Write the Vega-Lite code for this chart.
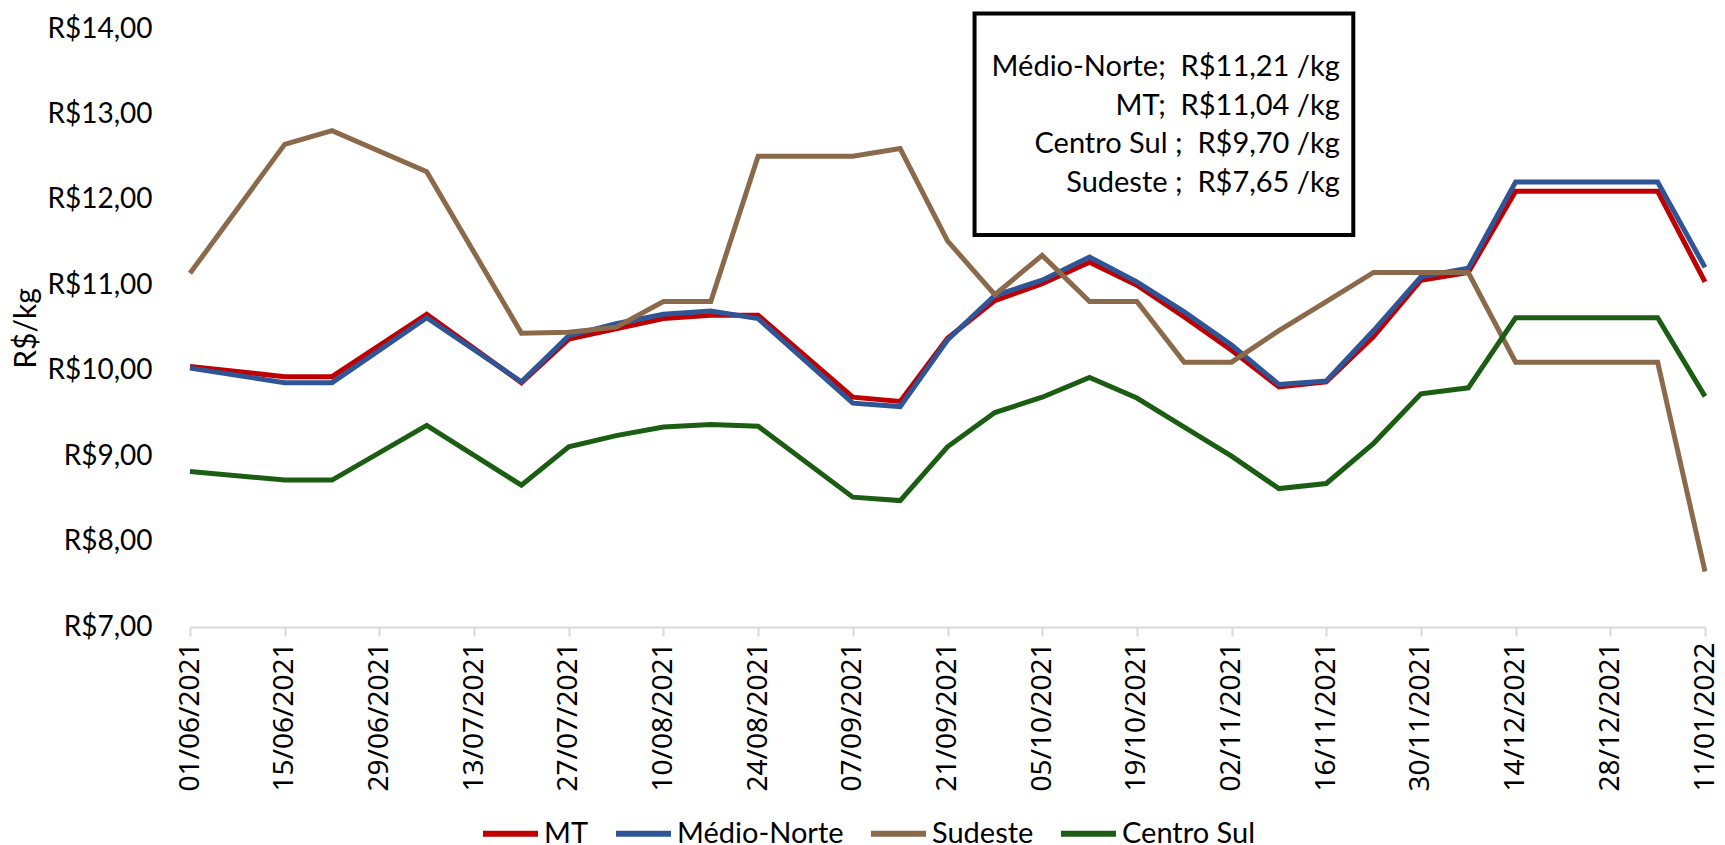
{
  "$schema": "https://vega.github.io/schema/vega-lite/v6.json",
  "autosize": {"type": "none"},
  "padding": {"left": 190, "top": 29, "right": 20, "bottom": 218},
  "width": 1515,
  "height": 598,
  "background": "white",
  "config": {
    "font": "Noto Sans",
    "view": {"stroke": null},
    "axis": {"labelFont": "Noto Sans", "labelFontSize": 28},
    "axisX": {
      "labelAngle": -90,
      "labelFont": "Noto Sans",
      "labelFontSize": 28,
      "labelColor": "#000000",
      "labelPadding": 6,
      "labelOverlap": false,
      "labelFlush": false,
      "labelLimit": 0,
      "domainColor": "#D9D9D9",
      "domainWidth": 2,
      "tickColor": "#D9D9D9",
      "tickWidth": 2,
      "tickSize": 9,
      "grid": false
    },
    "axisY": {
      "titleFont": "Lato",
      "titleFontSize": 30,
      "titleFontWeight": "normal",
      "titleColor": "#000000",
      "titlePadding": 5,
      "labelFont": "Lato",
      "labelFontSize": 28,
      "labelColor": "#000000",
      "labelPadding": 38,
      "domain": false,
      "ticks": false,
      "grid": false
    }
  },
  "datasets": {
    "prices": [
      {"date": "2021-06-01", "series": "MT", "price": 10.05},
      {"date": "2021-06-15", "series": "MT", "price": 9.93},
      {"date": "2021-06-22", "series": "MT", "price": 9.93},
      {"date": "2021-07-06", "series": "MT", "price": 10.66},
      {"date": "2021-07-20", "series": "MT", "price": 9.86},
      {"date": "2021-07-27", "series": "MT", "price": 10.37},
      {"date": "2021-08-03", "series": "MT", "price": 10.49},
      {"date": "2021-08-10", "series": "MT", "price": 10.61},
      {"date": "2021-08-17", "series": "MT", "price": 10.65},
      {"date": "2021-08-24", "series": "MT", "price": 10.65},
      {"date": "2021-09-07", "series": "MT", "price": 9.69},
      {"date": "2021-09-14", "series": "MT", "price": 9.64},
      {"date": "2021-09-21", "series": "MT", "price": 10.38},
      {"date": "2021-09-28", "series": "MT", "price": 10.82},
      {"date": "2021-10-05", "series": "MT", "price": 11.02},
      {"date": "2021-10-12", "series": "MT", "price": 11.27},
      {"date": "2021-10-19", "series": "MT", "price": 11.00},
      {"date": "2021-10-26", "series": "MT", "price": 10.63},
      {"date": "2021-11-02", "series": "MT", "price": 10.24},
      {"date": "2021-11-09", "series": "MT", "price": 9.81},
      {"date": "2021-11-16", "series": "MT", "price": 9.87},
      {"date": "2021-11-23", "series": "MT", "price": 10.40},
      {"date": "2021-11-30", "series": "MT", "price": 11.06},
      {"date": "2021-12-07", "series": "MT", "price": 11.15},
      {"date": "2021-12-14", "series": "MT", "price": 12.10},
      {"date": "2022-01-04", "series": "MT", "price": 12.10},
      {"date": "2022-01-11", "series": "MT", "price": 11.04},

      {"date": "2021-06-01", "series": "Médio-Norte", "price": 10.03},
      {"date": "2021-06-15", "series": "Médio-Norte", "price": 9.86},
      {"date": "2021-06-22", "series": "Médio-Norte", "price": 9.86},
      {"date": "2021-07-06", "series": "Médio-Norte", "price": 10.62},
      {"date": "2021-07-20", "series": "Médio-Norte", "price": 9.87},
      {"date": "2021-07-27", "series": "Médio-Norte", "price": 10.41},
      {"date": "2021-08-03", "series": "Médio-Norte", "price": 10.55},
      {"date": "2021-08-10", "series": "Médio-Norte", "price": 10.66},
      {"date": "2021-08-17", "series": "Médio-Norte", "price": 10.70},
      {"date": "2021-08-24", "series": "Médio-Norte", "price": 10.61},
      {"date": "2021-09-07", "series": "Médio-Norte", "price": 9.62},
      {"date": "2021-09-14", "series": "Médio-Norte", "price": 9.58},
      {"date": "2021-09-21", "series": "Médio-Norte", "price": 10.36},
      {"date": "2021-09-28", "series": "Médio-Norte", "price": 10.88},
      {"date": "2021-10-05", "series": "Médio-Norte", "price": 11.06},
      {"date": "2021-10-12", "series": "Médio-Norte", "price": 11.33},
      {"date": "2021-10-19", "series": "Médio-Norte", "price": 11.04},
      {"date": "2021-10-26", "series": "Médio-Norte", "price": 10.69},
      {"date": "2021-11-02", "series": "Médio-Norte", "price": 10.30},
      {"date": "2021-11-09", "series": "Médio-Norte", "price": 9.84},
      {"date": "2021-11-16", "series": "Médio-Norte", "price": 9.88},
      {"date": "2021-11-23", "series": "Médio-Norte", "price": 10.47},
      {"date": "2021-11-30", "series": "Médio-Norte", "price": 11.10},
      {"date": "2021-12-07", "series": "Médio-Norte", "price": 11.20},
      {"date": "2021-12-14", "series": "Médio-Norte", "price": 12.21},
      {"date": "2022-01-04", "series": "Médio-Norte", "price": 12.21},
      {"date": "2022-01-11", "series": "Médio-Norte", "price": 11.21},

      {"date": "2021-06-01", "series": "Sudeste", "price": 11.14},
      {"date": "2021-06-15", "series": "Sudeste", "price": 12.65},
      {"date": "2021-06-22", "series": "Sudeste", "price": 12.81},
      {"date": "2021-07-06", "series": "Sudeste", "price": 12.33},
      {"date": "2021-07-20", "series": "Sudeste", "price": 10.44},
      {"date": "2021-07-27", "series": "Sudeste", "price": 10.45},
      {"date": "2021-08-03", "series": "Sudeste", "price": 10.51},
      {"date": "2021-08-10", "series": "Sudeste", "price": 10.81},
      {"date": "2021-08-17", "series": "Sudeste", "price": 10.81},
      {"date": "2021-08-24", "series": "Sudeste", "price": 12.51},
      {"date": "2021-09-07", "series": "Sudeste", "price": 12.51},
      {"date": "2021-09-14", "series": "Sudeste", "price": 12.60},
      {"date": "2021-09-21", "series": "Sudeste", "price": 11.52},
      {"date": "2021-09-28", "series": "Sudeste", "price": 10.89},
      {"date": "2021-10-05", "series": "Sudeste", "price": 11.35},
      {"date": "2021-10-12", "series": "Sudeste", "price": 10.81},
      {"date": "2021-10-19", "series": "Sudeste", "price": 10.81},
      {"date": "2021-10-26", "series": "Sudeste", "price": 10.10},
      {"date": "2021-11-02", "series": "Sudeste", "price": 10.10},
      {"date": "2021-11-09", "series": "Sudeste", "price": 10.47},
      {"date": "2021-11-16", "series": "Sudeste", "price": 10.81},
      {"date": "2021-11-23", "series": "Sudeste", "price": 11.15},
      {"date": "2021-11-30", "series": "Sudeste", "price": 11.15},
      {"date": "2021-12-07", "series": "Sudeste", "price": 11.15},
      {"date": "2021-12-14", "series": "Sudeste", "price": 10.10},
      {"date": "2022-01-04", "series": "Sudeste", "price": 10.10},
      {"date": "2022-01-11", "series": "Sudeste", "price": 7.65},

      {"date": "2021-06-01", "series": "Centro Sul", "price": 8.82},
      {"date": "2021-06-15", "series": "Centro Sul", "price": 8.72},
      {"date": "2021-06-22", "series": "Centro Sul", "price": 8.72},
      {"date": "2021-07-06", "series": "Centro Sul", "price": 9.36},
      {"date": "2021-07-20", "series": "Centro Sul", "price": 8.66},
      {"date": "2021-07-27", "series": "Centro Sul", "price": 9.11},
      {"date": "2021-08-03", "series": "Centro Sul", "price": 9.24},
      {"date": "2021-08-10", "series": "Centro Sul", "price": 9.34},
      {"date": "2021-08-17", "series": "Centro Sul", "price": 9.37},
      {"date": "2021-08-24", "series": "Centro Sul", "price": 9.35},
      {"date": "2021-09-07", "series": "Centro Sul", "price": 8.52},
      {"date": "2021-09-14", "series": "Centro Sul", "price": 8.48},
      {"date": "2021-09-21", "series": "Centro Sul", "price": 9.11},
      {"date": "2021-09-28", "series": "Centro Sul", "price": 9.51},
      {"date": "2021-10-05", "series": "Centro Sul", "price": 9.69},
      {"date": "2021-10-12", "series": "Centro Sul", "price": 9.92},
      {"date": "2021-10-19", "series": "Centro Sul", "price": 9.68},
      {"date": "2021-10-26", "series": "Centro Sul", "price": 9.34},
      {"date": "2021-11-02", "series": "Centro Sul", "price": 9.00},
      {"date": "2021-11-09", "series": "Centro Sul", "price": 8.62},
      {"date": "2021-11-16", "series": "Centro Sul", "price": 8.68},
      {"date": "2021-11-23", "series": "Centro Sul", "price": 9.15},
      {"date": "2021-11-30", "series": "Centro Sul", "price": 9.73},
      {"date": "2021-12-07", "series": "Centro Sul", "price": 9.80},
      {"date": "2021-12-14", "series": "Centro Sul", "price": 10.62},
      {"date": "2022-01-04", "series": "Centro Sul", "price": 10.62},
      {"date": "2022-01-11", "series": "Centro Sul", "price": 9.70}
    ]
  },
  "layer": [
    {
      "data": {"name": "prices"},
      "mark": {"type": "line", "strokeWidth": 5, "strokeJoin": "miter", "strokeCap": "butt"},
      "encoding": {
        "x": {
          "field": "date",
          "type": "temporal",
          "scale": {
            "type": "utc",
            "domain": [
              {"year": 2021, "month": 6, "date": 1, "utc": true},
              {"year": 2022, "month": 1, "date": 11, "utc": true}
            ]
          },
          "axis": {
            "title": null,
            "labelExpr": "utcFormat(datum.value, '%d/%m/%Y')",
            "values": [
              {"year": 2021, "month": 6, "date": 1, "utc": true},
              {"year": 2021, "month": 6, "date": 15, "utc": true},
              {"year": 2021, "month": 6, "date": 29, "utc": true},
              {"year": 2021, "month": 7, "date": 13, "utc": true},
              {"year": 2021, "month": 7, "date": 27, "utc": true},
              {"year": 2021, "month": 8, "date": 10, "utc": true},
              {"year": 2021, "month": 8, "date": 24, "utc": true},
              {"year": 2021, "month": 9, "date": 7, "utc": true},
              {"year": 2021, "month": 9, "date": 21, "utc": true},
              {"year": 2021, "month": 10, "date": 5, "utc": true},
              {"year": 2021, "month": 10, "date": 19, "utc": true},
              {"year": 2021, "month": 11, "date": 2, "utc": true},
              {"year": 2021, "month": 11, "date": 16, "utc": true},
              {"year": 2021, "month": 11, "date": 30, "utc": true},
              {"year": 2021, "month": 12, "date": 14, "utc": true},
              {"year": 2021, "month": 12, "date": 28, "utc": true},
              {"year": 2022, "month": 1, "date": 11, "utc": true}
            ],
            "labelAngle": -90,
            "labelFont": "Noto Sans",
            "labelFontSize": 28
          }
        },
        "y": {
          "field": "price",
          "type": "quantitative",
          "scale": {"domain": [7, 14], "nice": false, "zero": false},
          "axis": {
            "title": "R$/kg",
            "values": [7, 8, 9, 10, 11, 12, 13, 14],
            "labelExpr": "'R$' + replace(format(datum.value, '.2f'), '.', ',')",
            "labelFont": "Lato",
            "labelFontSize": 28
          }
        },
        "color": {
          "field": "series",
          "type": "nominal",
          "scale": {
            "domain": ["MT", "Médio-Norte", "Sudeste", "Centro Sul"],
            "range": ["#C00000", "#2F5597", "#8B6A4B", "#1B5E13"]
          },
          "legend": {
            "title": null,
            "orient": "none",
            "direction": "horizontal",
            "legendX": 290,
            "legendY": 774,
            "padding": 0,
            "symbolType": "stroke",
            "symbolSize": 3025,
            "symbolStrokeWidth": 6,
            "labelFont": "Lato",
            "labelFontSize": 29,
            "labelColor": "#000000",
            "labelLimit": 0,
            "labelOffset": 3,
            "columnPadding": 15,
            "encode": {
              "symbols": {
                "update": {
                  "stroke": {"scale": "color", "field": "value"},
                  "strokeWidth": {"value": 6}
                }
              }
            }
          }
        }
      }
    },
    {
      "data": {"values": [{"box": "note"}]},
      "mark": {"type": "rect", "fill": "white", "stroke": "black", "strokeWidth": 4, "clip": false},
      "encoding": {
        "x": {"datum": {"year": 2021, "month": 9, "date": 25, "utc": true}, "type": "temporal"},
        "x2": {"datum": {"year": 2021, "month": 11, "date": 20, "utc": true}},
        "y": {"datum": 14.18, "type": "quantitative"},
        "y2": {"datum": 11.59}
      }
    },
    {
      "data": {"values": [{"box": "note"}]},
      "mark": {
        "type": "text",
        "text": ["Médio-Norte;\u00a0 R$11,21 /kg", "MT;\u00a0 R$11,04 /kg", "Centro Sul ;\u00a0 R$9,70 /kg", "Sudeste ;\u00a0 R$7,65 /kg"],
        "align": "right",
        "baseline": "middle",
        "lineHeight": 38.7,
        "font": "Lato",
        "fontSize": 29,
        "color": "#000000",
        "clip": false
      },
      "encoding": {
        "x": {"datum": {"year": 2021, "month": 11, "date": 18, "utc": true}, "type": "temporal"},
        "y": {"datum": 13.555, "type": "quantitative"}
      }
    }
  ]
}
